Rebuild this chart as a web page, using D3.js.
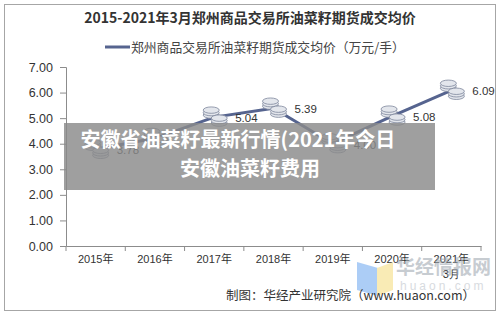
<!DOCTYPE html>
<html lang="zh">
<head>
<meta charset="UTF-8" />
<title>2015-2021年3月郑州商品交易所油菜籽期货成交均价</title>
<style>
  html, body { margin: 0; padding: 0; background: #fff; }
  svg { display: block; font-family: "Liberation Sans", Arial, "Noto Sans CJK SC", sans-serif; }
</style>
</head>
<body>
<svg width="500" height="314"></svg>
<script src="https://d3js.org/d3.v7.min.js"></script>
<script>
// data
var years = ["2015年", "2016年", "2017年", "2018年", "2019年", "2020年", "2021年"];
var prices = [3.78, 4.21, 5.04, 5.39, 4.00, 5.08, 6.09];
var showLabel = [true, false, true, true, true, true, true];
var yTicks = [0, 1, 2, 3, 4, 5, 6, 7];

var svg = d3.select("svg");
var cjk = "\"Noto Sans CJK SC\", sans-serif";

// outer frame
svg.append("rect")
   .attr("x", 4.5).attr("y", 4.5).attr("width", 491).attr("height", 306)
   .attr("fill", "#fff").attr("stroke", "#a6a6a6");

// title
svg.append("text")
   .attr("x", 250).attr("y", 23)
   .attr("text-anchor", "middle")
   .style("font-family", cjk)
   .style("font-size", "14px").style("font-weight", "bold")
   .attr("fill", "#333")
   .text("2015-2021年3月郑州商品交易所油菜籽期货成交均价");

// legend
svg.append("line")
   .attr("x1", 105).attr("x2", 130).attr("y1", 47).attr("y2", 47)
   .attr("stroke", "#56648f").attr("stroke-width", 3);
svg.append("text")
   .attr("x", 131).attr("y", 51.5)
   .style("font-family", cjk).style("font-size", "12.8px")
   .attr("fill", "#444")
   .text("郑州商品交易所油菜籽期货成交均价（万元/手）");

var x = d3.scaleBand().domain(years).range([66, 481]);
var y = d3.scaleLinear().domain([0, 7]).range([246, 67]);

// y axis
var yAxis = svg.append("g")
   .attr("transform", "translate(66,0)")
   .call(d3.axisLeft(y).tickValues(yTicks).tickFormat(d3.format(".2f")).tickSize(6).tickPadding(7));
yAxis.selectAll("text").style("font-size", "12.5px").attr("fill", "#333");
yAxis.selectAll("line, path").attr("stroke", "#8c8c8c");

// x axis
var xAxis = svg.append("g")
   .attr("transform", "translate(0,246)")
   .call(d3.axisBottom(x).tickSize(0).tickPadding(9));
xAxis.select("path").attr("stroke", "#8c8c8c");
xAxis.selectAll("text")
   .style("font-family", "\"Liberation Sans\", Arial, \"Noto Sans CJK SC\", sans-serif")
   .style("font-size", "11px").attr("fill", "#333");
xAxis.selectAll(".tick").filter(function(d) { return d === "2021年"; })
   .append("text")
   .attr("y", 24).attr("dy", "0.71em")
   .attr("fill", "#333").style("font-size", "11px")
   .text("3月");
// boundary ticks between categories
svg.append("g").selectAll("line")
   .data(years.concat(["end"]))
   .join("line")
   .attr("x1", function(d, i) { return 66 + i * x.step(); })
   .attr("x2", function(d, i) { return 66 + i * x.step(); })
   .attr("y1", 246).attr("y2", 251)
   .attr("stroke", "#8c8c8c");

var cx = function(d, i) { return x(years[i]) + x.bandwidth() / 2; };

// line
var line = d3.line()
   .x(function(d, i) { return cx(d, i); })
   .y(function(d) { return y(d); });
svg.append("path")
   .datum(prices)
   .attr("d", line)
   .attr("fill", "none")
   .attr("stroke", "#56648f").attr("stroke-width", 3)
   .attr("stroke-linejoin", "round");

// coin stack markers
function coins(g, ox, oy, n) {
   for (var k = 0; k < n; k++) {
      g.append("ellipse")
         .attr("cx", ox).attr("cy", oy - k * 2.5)
         .attr("rx", 8).attr("ry", 3.2)
         .attr("fill", "#e3e6ec").attr("stroke", "#7d869c").attr("stroke-width", 0.8);
   }
}
var markers = svg.append("g");
prices.forEach(function(v, i) {
   var g = markers.append("g");
   var px = cx(v, i), py = y(v);
   coins(g, px - 3, py - 2, 3);
   coins(g, px + 5, py + 6, 3);
});

// data labels
svg.append("g").selectAll("text")
   .data(prices)
   .join("text")
   .attr("x", function(d, i) { return cx(d, i) + 21; })
   .attr("y", function(d) { return y(d) + 5; })
   .attr("fill", "#333").style("font-size", "11.5px")
   .text(function(d, i) { return showLabel[i] ? d.toFixed(2) : ""; });

// grey overlay banner
svg.append("rect")
   .attr("x", 64).attr("y", 123).attr("width", 371).attr("height", 67)
   .attr("fill", "#8a8a8a").attr("opacity", 0.82);
svg.append("text")
   .attr("x", 238).attr("y", 147)
   .attr("text-anchor", "middle")
   .style("font-family", cjk).style("font-size", "20px").style("font-weight", "bold")
   .attr("fill", "#fff")
   .text("安徽省油菜籽最新行情(2021年今日");
svg.append("text")
   .attr("x", 250).attr("y", 176)
   .attr("text-anchor", "middle")
   .style("font-family", cjk).style("font-size", "20px").style("font-weight", "bold")
   .attr("fill", "#fff")
   .text("安徽油菜籽费用");

// watermark
var wm = svg.append("g").attr("opacity", 0.55);
wm.append("path").attr("d", "M357,262 L378,268 L378,296 L357,290 Z").attr("fill", "#6aa6f0");
wm.append("path").attr("d", "M377,268 L393,262 L393,290 L377,296 Z").attr("fill", "#f5dc7a");
wm.append("text")
   .attr("x", 396).attr("y", 274)
   .style("font-family", cjk).style("font-size", "19px").style("font-weight", "bold")
   .attr("fill", "#9aa3ad")
   .text("华经情报网");
wm.append("text")
   .attr("x", 400).attr("y", 290)
   .style("font-size", "12px").attr("letter-spacing", "3px")
   .attr("fill", "#b8bec6")
   .text("huaon.com");

// source
svg.append("text")
   .attr("x", 475).attr("y", 300)
   .attr("text-anchor", "end")
   .style("font-family", cjk).style("font-size", "12.5px")
   .attr("fill", "#333")
   .text("制图：华经产业研究院（www.huaon.com）");
</script>
</body>
</html>
